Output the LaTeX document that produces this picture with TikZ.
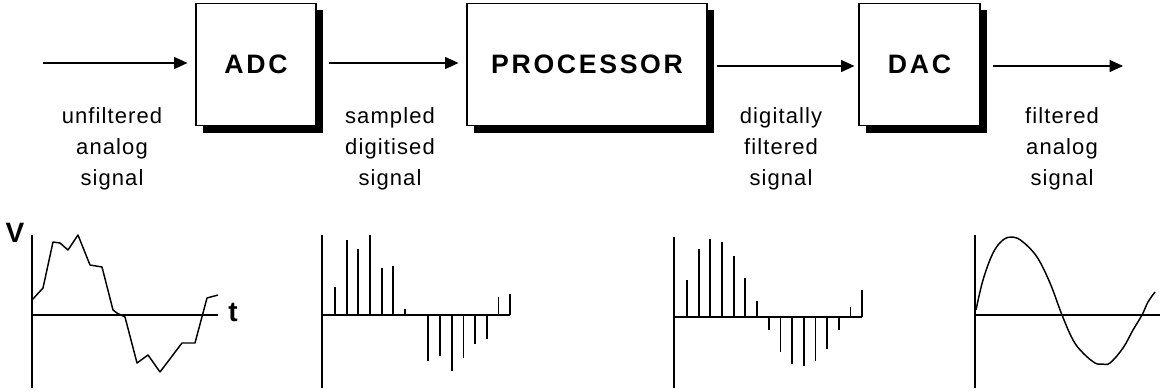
\documentclass[tikz,border=0pt]{standalone}
\usepackage{fontspec}
\setmainfont{Liberation Sans}
\usetikzlibrary{arrows.meta,shadows}

\begin{document}
\begin{tikzpicture}[x=0.75pt,y=-0.75pt,
		blk/.style={draw,fill=white,line width=0.8pt,minimum height=92pt,
			drop shadow={shadow xshift=5.25pt,shadow yshift=-5.5pt,fill=black,opacity=1},
			font=\fontsize{20}{24}\selectfont\bfseries\addfontfeatures{LetterSpace=10}},
		flow/.style={line width=0.8pt,-{Triangle[length=10pt,width=9pt]}},
		lbl/.style={align=center,font=\fontsize{16.5}{23.25}\selectfont\addfontfeatures{LetterSpace=5}},
		axlab/.style={font=\fontsize{21}{21}\selectfont\bfseries},
		ax/.style={line width=1.4pt},
		stem/.style={line width=1.3pt},
		wave/.style={line width=1.1pt,line join=round}]
	
	\useasboundingbox (0,0) rectangle (1160,392);
	
	%--- blocks ---
	\node[blk,minimum width=90pt]    (adc)  at (256,64.5)   {ADC};
	\node[blk,minimum width=180pt]   (proc) at (587,64.5)   {PROCESSOR};
	\node[blk,minimum width=90.75pt] (dac)  at (919.5,64.5) {DAC};
	
	% signal path
	\coordinate (src)  at (43,63);
	\coordinate (sink) at (1123,66);
	\draw[flow,shorten >=6pt] (src) -- (src -| adc.west);
	\draw[flow,shorten <=9pt,shorten >=6pt] (adc.east |- src) -- (proc.west |- src);
	\draw[flow,shorten <=6.75pt,shorten >=3pt] (proc.east |- sink) -- (dac.west |- sink);
	\draw[flow,shorten <=9pt] (dac.east |- sink) -- (sink);
	
	% labels under the arrows
	\node[lbl] (unf) at (112,149)  {unfiltered\\analog\\signal};
	\node[lbl] (smp) at (390,149)  {sampled\\digitised\\signal};
	\node[lbl] (dig) at (781,149)  {digitally\\filtered\\signal};
	\node[lbl] (flt) at (1062,149) {filtered\\analog\\signal};
	
	%--- plot 1: raw analog signal ---
	\draw[ax] (32,235) -- (32,388);
	\draw[ax] (32,315) -- (218,315);
	\node[axlab] (vlab) at (15,233) {V};
	\node[axlab] (tlab) at (233,312) {t};
	\draw[wave] (32,300) -- (43,288) -- (53,242) -- (60,243) -- (68,250) -- (78,235)
		-- (90,265) -- (102,267) -- (113,310) -- (117,313) -- (125,317) -- (137,363)
		-- (148,355) -- (160,372) -- (182,343) -- (195,343) -- (207,298) -- (218,295);
	
	%--- plot 2: sampled values ---
	\draw[ax] (322,235) -- (322,388);
	\draw[ax] (322,315) -- (510,315);
	\foreach \i/\d in {0/-28,1/-75,2/-66,3/-80,4/-47,5/-49,6/-6,
			8/46,9/41,10/56,11/43,12/29,13/24,14/-18,15/-21}
		\draw[stem] (335+11.67*\i,315) -- ++(0,\d);
	
	%--- plot 3: filtered samples ---
	\draw[ax] (674,237) -- (674,388);
	\draw[ax] (674,317) -- (862,317);
	\foreach \i/\d in {0/-37,1/-68,2/-78,3/-75,4/-61,5/-39,6/-16,7/13,
			8/35,9/47,10/49,11/44,12/32,13/13,14/-10,15/-27}
		\draw[stem] (687+11.67*\i,317) -- ++(0,\d);
	
	%--- plot 4: reconstructed analog signal ---
	\draw[ax] (975,235) -- (975,388);
	\draw[ax] (975,315) -- (1160,315);
	\draw[wave] plot[smooth,tension=0.6] coordinates {(976,310) (983,280) (993,253)
		(1003,240) (1013,237) (1023,242) (1037,257) (1050,283) (1062,315) (1073,340)
		(1083,353) (1095,363) (1102,364) (1110,363) (1123,348) (1133,330) (1142,315)
		(1148,302) (1155,292)};
	
\end{tikzpicture}
\end{document}
